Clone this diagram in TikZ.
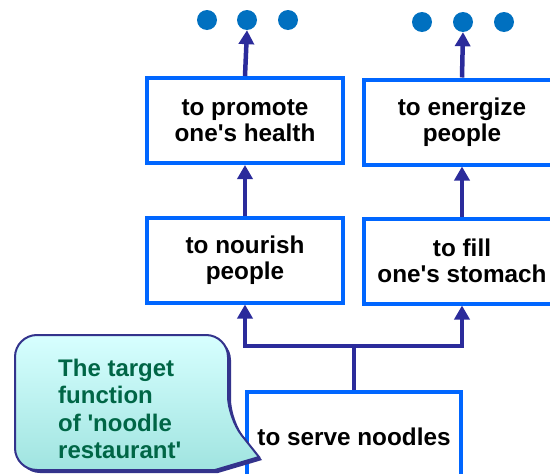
\documentclass[tikz,border=0pt]{standalone}
\usepackage{fontspec}
\setmainfont{Liberation Sans}
\usepackage{tikz}
\usetikzlibrary{arrows.meta}
\definecolor{boxblue}{RGB}{0,102,255}
\definecolor{arrownavy}{RGB}{43,43,155}
\definecolor{dotblue}{RGB}{0,112,192}
\definecolor{notegreen}{RGB}{0,102,70}
\definecolor{noteedge}{RGB}{51,51,140}

\tikzset{
  funcbox/.style={draw=boxblue, line width=4pt, fill=white, minimum width=196pt,
    minimum height=85pt, align=center, inner sep=0pt,
    font=\fontsize{24.3}{26}\selectfont\bfseries},
  dot/.style={circle, fill=dotblue, minimum size=20pt, inner sep=0pt},
  link/.style={arrownavy, line width=4.5pt},
  arr/.style={link, -{Triangle[width=15pt,length=14pt]}},
}

\begin{document}
\begin{tikzpicture}[x=1pt, y=-1pt]
    \useasboundingbox (0,0) rectangle (550,474);
    \clip (0,0) rectangle (550,474);
    % dots at the top
    \foreach \i/\x in {1/207, 2/247, 3/288} \node[dot] (pdot\i) at (\x,20) {};
    \foreach \i/\x in {1/422, 2/463, 3/504} \node[dot] (edot\i) at (\x,22) {};
    % function boxes
    \node[funcbox] (promote)  at (245,120.5) {to promote\\one\textquotesingle s health};
    \node[funcbox] (energize) at (462,122)   {to energize\\people};
    \node[funcbox] (nourish)  at (245,260)   {to nourish\\people};
    \node[funcbox] (fill)     at (462,261)   {to fill\\one\textquotesingle s stomach};
    \node[funcbox, minimum width=214pt, minimum height=90pt] (serve) at (354,437) {to serve noodles};
    % connectors
    \draw[arr] (promote.north) -- (pdot2.south);
    \draw[arr] (energize.north) -- (edot2.south);
    \draw[arr] (nourish.north) -- (promote.south);
    \draw[arr] (fill.north) -- (energize.south);
    \draw[link] (serve.north) -- ++(0,-44) coordinate (fork);
    \draw[arr] (fork) -| (nourish.south);
    \draw[arr] (fork) -| (fill.south);
    % callout
    \fill[noteedge, rounded corners=22pt, shift={(3,3)}]
      (15,335) -- (228,335) -- (228,418) [sharp corners] -- (259,457) -- (215,470)
      [rounded corners=22pt] -- (15,470) -- cycle;
    \draw[noteedge, line width=2pt, top color={rgb,255:red,215;green,255;blue,255},
      bottom color={rgb,255:red,160;green,228;blue,224}, rounded corners=22pt]
      (15,335) -- (228,335) -- (228,418) [sharp corners] -- (259,457) -- (215,470)
      [rounded corners=22pt] -- (15,470) -- cycle;
    \node[anchor=west, align=left, inner sep=0pt, text=notegreen,
      font=\fontsize{24}{27.3}\selectfont\bfseries] (note) at (58,409)
      {The target\\function\\of \textquotesingle noodle\\restaurant\textquotesingle};
\end{tikzpicture}
\end{document}
